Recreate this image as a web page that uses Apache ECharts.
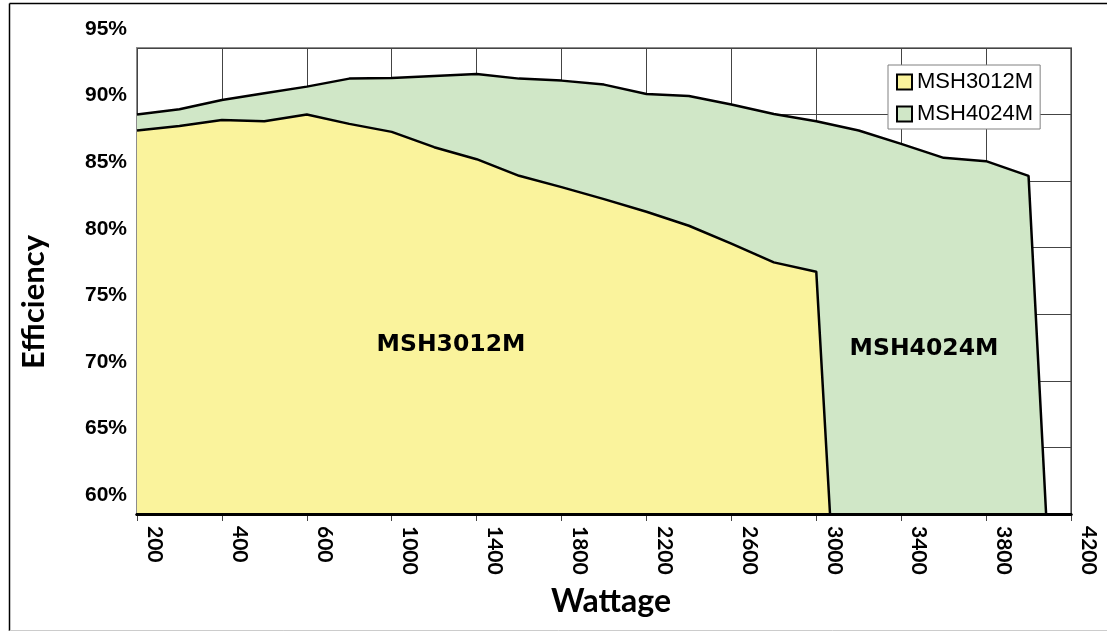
<!DOCTYPE html>
<html>
<head>
<meta charset="utf-8">
<title>Efficiency vs Wattage</title>
<script src="https://cdn.jsdelivr.net/npm/echarts@6/dist/echarts.min.js"></script>
<style>
  html, body { margin: 0; padding: 0; background: #fff; }
  #chart { width: 1107px; height: 631px; }
</style>
</head>
<body>
<div id="chart"></div>
<script>
  // wattage categories (every other one is labelled)
  var wattage = ['200', '300', '400', '500', '600', '800', '1000', '1200', '1400', '1600', '1800',
    '2000', '2200', '2400', '2600', '2800', '3000', '3200', '3400', '3600', '3800', '4000', '4200']
  // efficiency in %
  var msh3012m = [88.8, 89.15, 89.6, 89.5, 90.0, 89.3, 88.7, 87.55, 86.65, 85.4, 84.55,
    83.65, 82.7, 81.65, 80.3, 78.9, 78.2, 22]
  var msh4024m = [90.0, 90.4, 91.1, 91.6, 92.1, 92.7, 92.75, 92.9, 93.05, 92.7, 92.55,
    92.25, 91.55, 91.4, 90.75, 90.05, 89.5, 88.8, 87.8, 86.75, 86.5, 85.4, 24]
  var yMin = 60, yMax = 95, yStep = 5

  var myChart = echarts.init(document.getElementById('chart'))
  myChart.setOption({
    animation: false,
    backgroundColor: '#fff',
    grid: {
      left: 137, right: 36, top: 48, bottom: 117,
      show: true,
      backgroundColor: '#fff',
      borderColor: '#8c8c8c',
      borderWidth: 2
    },
    legend: {
      data: ['MSH3012M', 'MSH4024M'],
      orient: 'vertical',
      left: 888, top: 65,
      padding: [5, 7, 3, 8],
      itemGap: 8,
      itemWidth: 15, itemHeight: 15,
      icon: 'rect',
      backgroundColor: '#fff',
      borderColor: '#808080',
      borderWidth: 1,
      textStyle: { fontFamily: 'Liberation Sans', fontSize: 22, color: '#000', lineHeight: 24 }
    },
    xAxis: [
      {
        type: 'category',
        data: wattage,
        boundaryGap: false,
        name: 'Wattage',
        nameLocation: 'middle',
        nameGap: 72,
        nameTextStyle: { fontFamily: 'Lato', fontWeight: 'bold', fontSize: 32, color: '#000', padding: [0, 0, 0, 14] },
        axisLine: { lineStyle: { color: '#000', width: 3 } },
        axisTick: { interval: 1, length: 7, lineStyle: { color: '#444', width: 1 } },
        axisLabel: {
          interval: 1, rotate: -90, margin: 12,
          fontFamily: 'Lato', fontWeight: 'bold', fontSize: 21, color: '#000',
          verticalAlign: 'bottom', lineHeight: 36
        },
        splitLine: { show: true, interval: 1, lineStyle: { color: '#444', width: 1 } }
      },
      {
        // black base line drawn above the filled areas
        type: 'category',
        data: wattage,
        boundaryGap: false,
        position: 'bottom',
        z: 10,
        axisLine: { lineStyle: { color: '#000', width: 3 } },
        axisTick: { show: false },
        axisLabel: { show: false },
        splitLine: { show: false }
      }
    ],
    yAxis: {
      type: 'value',
      min: yMin, max: yMax, interval: yStep,
      name: 'Efficiency',
      nameLocation: 'middle',
      nameGap: 88,
      nameTextStyle: { fontFamily: 'Lato', fontWeight: 'bold', fontSize: 31, color: '#000', padding: [0, 42, 0, 0] },
      axisLine: { show: false },
      axisTick: { show: false },
      axisLabel: {
        formatter: '{value}%', margin: 10,
        fontFamily: 'Liberation Sans', fontWeight: 'bold', fontSize: 21, color: '#000',
        verticalAlign: 'bottom', lineHeight: 38
      },
      splitLine: { lineStyle: { color: '#444', width: 1 } }
    },
    series: [
      {
        name: 'MSH4024M',
        type: 'line',
        data: msh4024m,
        symbol: 'none',
        clip: true,
        color: '#D0E7C7',
        lineStyle: { color: '#000', width: 2.5 },
        itemStyle: { color: '#D0E7C7', borderColor: '#000', borderWidth: 1.5 },
        areaStyle: { color: '#D0E7C7', opacity: 1, origin: 'start' }
      },
      {
        name: 'MSH3012M',
        type: 'line',
        data: msh3012m,
        symbol: 'none',
        clip: true,
        color: '#FAF39C',
        lineStyle: { color: '#000', width: 2.5 },
        itemStyle: { color: '#FAF39C', borderColor: '#000', borderWidth: 1.5 },
        areaStyle: { color: '#FAF39C', opacity: 1, origin: 'start' }
      }
    ],
    graphic: [
      { type: 'line', shape: { x1: 9.5, y1: 3.5, x2: 1107, y2: 3.5 }, style: { stroke: '#000', lineWidth: 1.5 } },
      { type: 'line', shape: { x1: 9.5, y1: 3.5, x2: 9.5, y2: 631 }, style: { stroke: '#000', lineWidth: 1.5 } },
      { type: 'line', shape: { x1: 9.5, y1: 630.5, x2: 1107, y2: 630.5 }, style: { stroke: '#ccc', lineWidth: 1 } },
      {
        type: 'text', x: 451, y: 345, z: 100,
        style: { text: 'MSH3012M', font: 'bold 23.5px "DejaVu Sans"', fill: '#000', textAlign: 'center', textVerticalAlign: 'middle', align: 'center', verticalAlign: 'middle' }
      },
      {
        type: 'text', x: 924, y: 349, z: 100,
        style: { text: 'MSH4024M', font: 'bold 23.5px "DejaVu Sans"', fill: '#000', textAlign: 'center', textVerticalAlign: 'middle', align: 'center', verticalAlign: 'middle' }
      }
    ]
  })
</script>
</body>
</html>
